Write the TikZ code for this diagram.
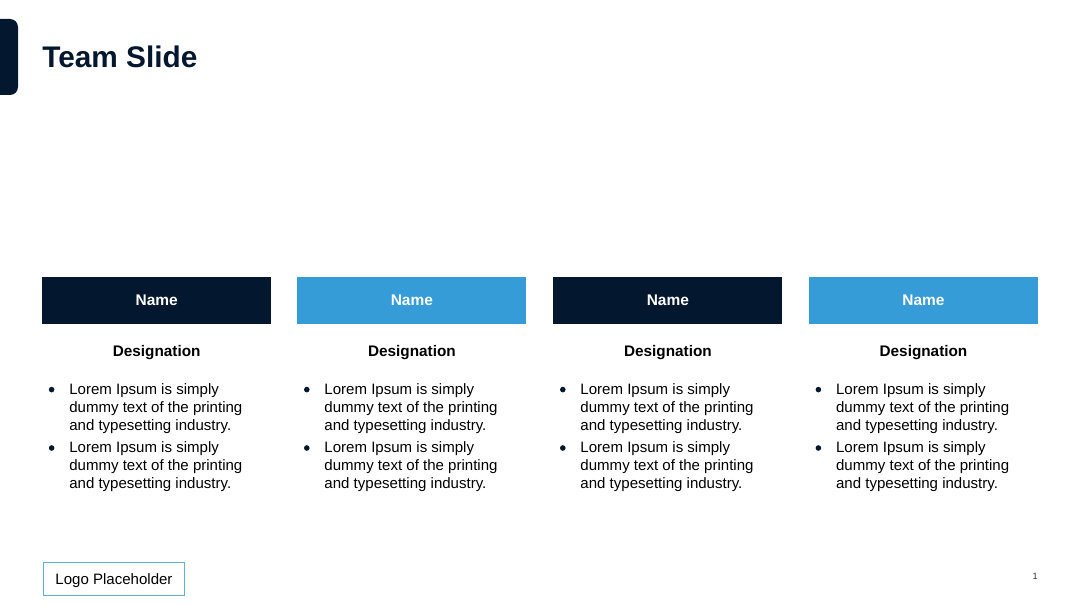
\documentclass[tikz,border=0pt]{standalone}
\usepackage{fontspec}
\setmainfont{Liberation Sans}
\usetikzlibrary{positioning}
\definecolor{teamnavy}{RGB}{3, 24, 46}
\definecolor{teamblue}{RGB}{53, 156, 215}
\definecolor{logoblue}{RGB}{96, 174, 218}

\begin{document}
\begin{tikzpicture}[
    namebar/.style={
        rectangle,
        minimum width=5.72cm,
        minimum height=1.17cm,
        inner sep=0pt,
        text=white,
        font=\fontsize{11pt}{13pt}\selectfont\bfseries
    },
    designation/.style={
        inner sep=0pt,
        text=black,
        font=\fontsize{10.9pt}{13pt}\selectfont\bfseries
    },
    bullettext/.style={
        anchor=north west,
        inner sep=0pt,
        align=left,
        text=black,
        font=\fontsize{10.7pt}{12.8pt}\selectfont
    },
    bulletdot/.style={
        circle,
        fill=teamnavy,
        inner sep=0pt,
        minimum size=0.14cm
    },
    title/.style={
        anchor=west,
        inner sep=0pt,
        text=teamnavy,
        font=\fontsize{21.2pt}{25pt}\selectfont\bfseries
    }
]

% Page
\useasboundingbox (0,0) rectangle (27,15.2);

% Corner tab
\fill[teamnavy, rounded corners=0.2cm] (-1,14.725) -- (0.45,14.725) -- (0.45,12.825) -- (-1,12.825);

% Title
\node[title] (slidetitle) at (1.05,13.78) {Team Slide};

% Columns
\foreach \col/\x/\barcolor in {a/1.05/teamnavy, b/7.43/teamblue, c/13.83/teamnavy, d/20.22/teamblue} {
    \node[namebar, fill=\barcolor, anchor=west] (name\col) at (\x,7.69) {Name};
    \node[designation, below=0.52cm of name\col.south] (desig\col) {Designation};
    \node[bulletdot] (dota\col) at ([xshift=0.24cm]\x,5.46) {};
    \node[bullettext] (texta\col) at ([xshift=0.675cm]\x,5.62) {Lorem Ipsum is simply\\dummy text of the printing\\and typesetting industry.};
    \node[bulletdot] (dotb\col) at ([xshift=0.24cm]\x,4.0) {};
    \node[bullettext] (textb\col) at ([xshift=0.675cm]\x,4.16) {Lorem Ipsum is simply\\dummy text of the printing\\and typesetting industry.};
}

% Logo
\node[draw=logoblue, line width=0.8pt, minimum width=3.53cm, minimum height=0.82cm, inner sep=0pt, text depth=0pt, font=\fontsize{10.7pt}{13pt}\selectfont] (logo) at (2.85,0.73) {Logo Placeholder};

% Page number
\node[inner sep=0pt, text=black!80, font=\fontsize{6.5pt}{8pt}\selectfont] (pagenum) at (25.88,0.79) {1};

\end{tikzpicture}
\end{document}
